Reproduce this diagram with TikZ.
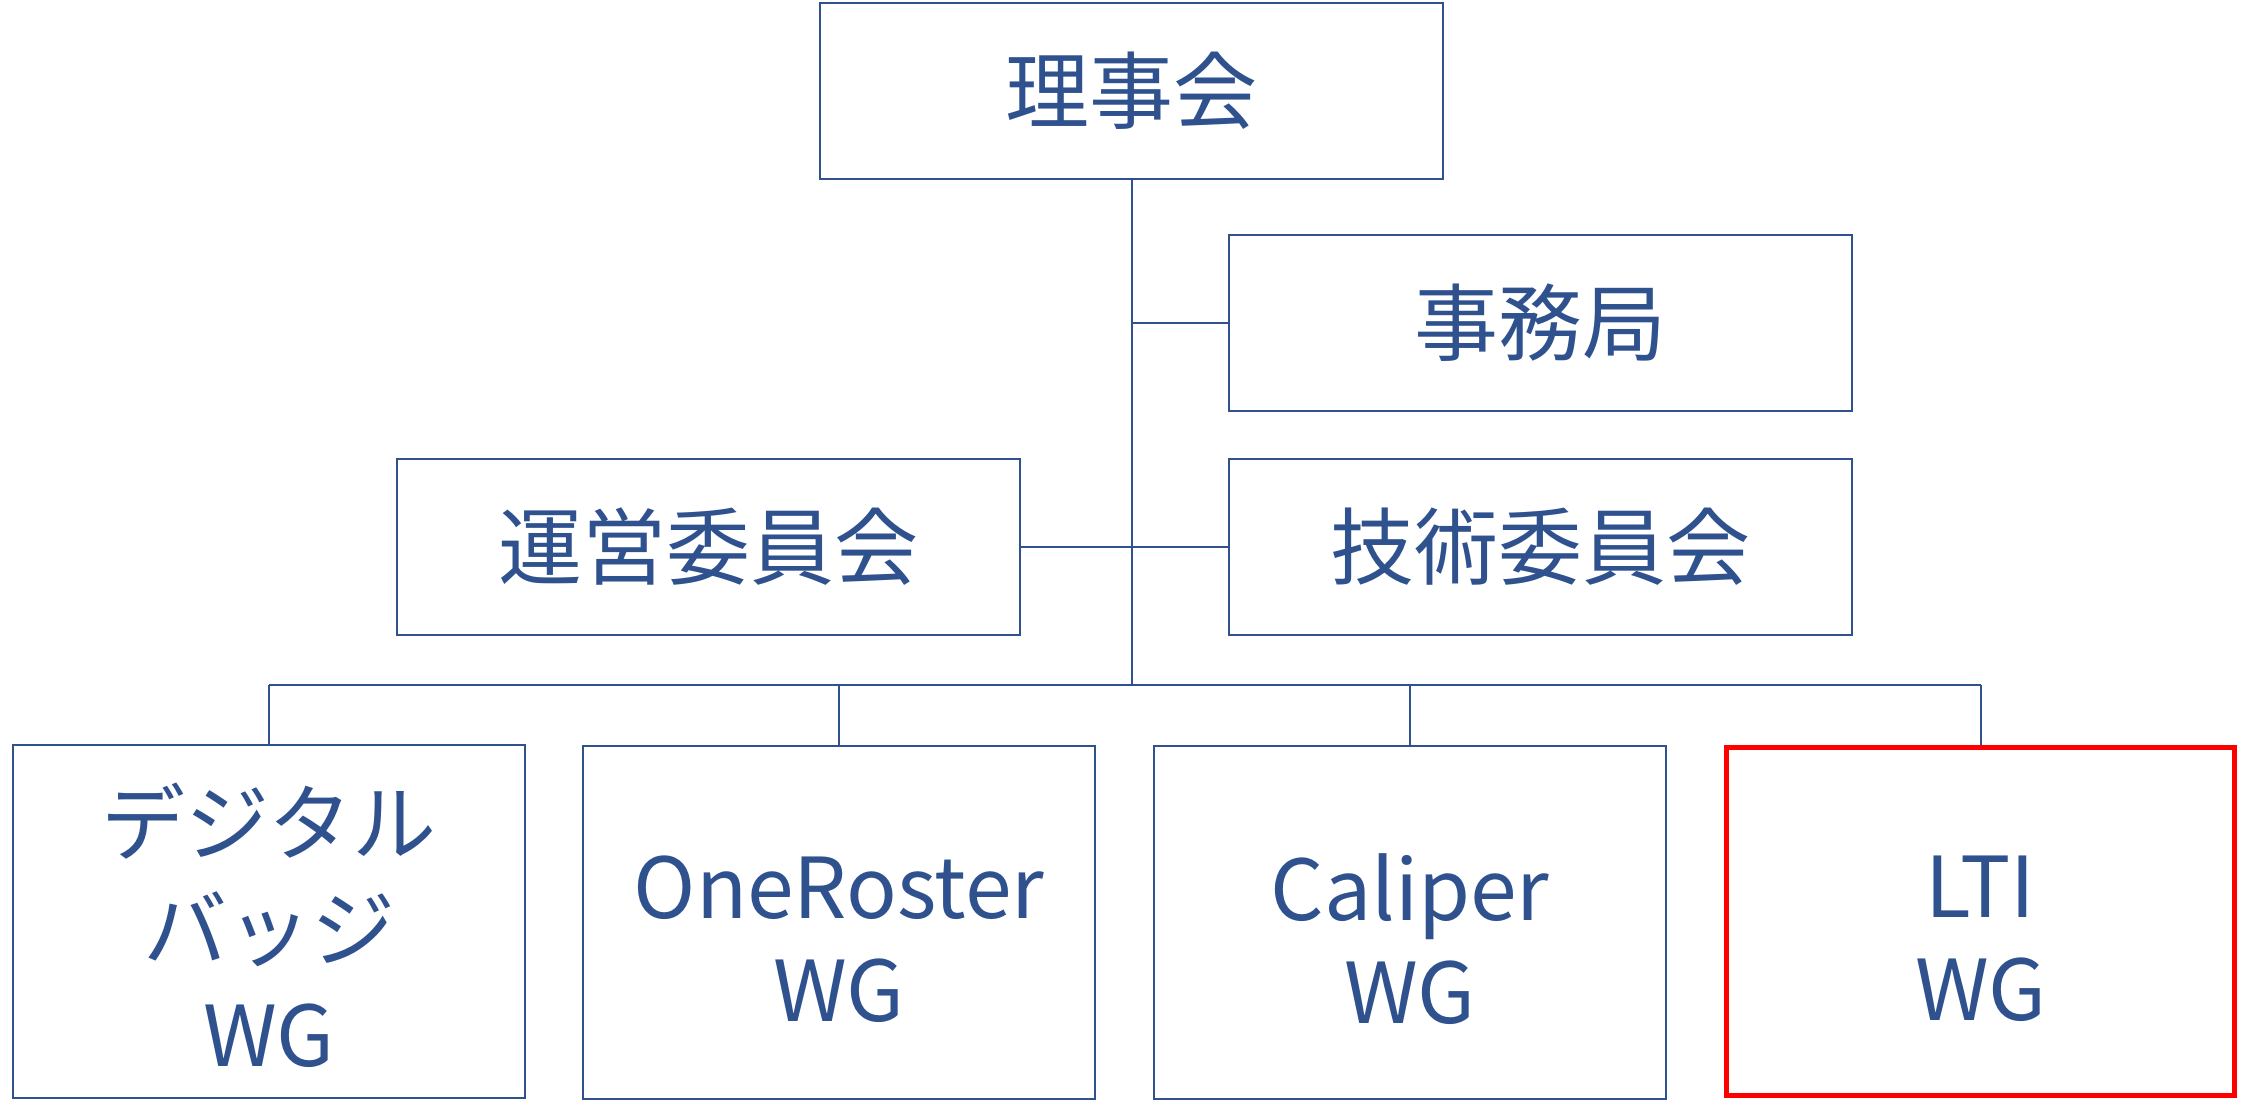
\documentclass[tikz,border=0pt]{standalone}
\usepackage{fontspec}
\setmainfont{Noto Sans CJK JP}
\definecolor{ob}{HTML}{2F528F}
\begin{document}
\begin{tikzpicture}[x=0.5pt,y=-0.5pt,
  box/.style={draw=ob, line width=1pt, fill=white, text=ob, align=center, inner sep=0pt,
    font=\fontsize{42}{51.5}\selectfont},
  lbl/.style={text=ob, align=center, inner sep=0pt, font=\fontsize{42}{51.5}\selectfont},
  topbox/.style={box, minimum width=311.5pt, minimum height=88pt},
  wgbox/.style={box, minimum width=256pt, minimum height=176.5pt},
  hotbox/.style={wgbox, draw=red, line width=2.5pt, minimum width=254pt, minimum height=174pt},
  conn/.style={draw=ob, line width=1pt}]
\fill[white] (0,0) rectangle (2247,1100);
\useasboundingbox (0,0) rectangle (2247,1100);
% boxes
\node[topbox] (riji) at (1131.5,91) {理事会};
\node[topbox] (jimu) at (1540.5,323) {事務局};
\node[topbox] (unei) at (708.5,547) {運営委員会};
\node[topbox] (giju) at (1540.5,547) {技術委員会};
\node[wgbox, label={[lbl, name=digt, yshift=-2pt, font=\fontsize{42}{53}\selectfont]center:{デジタル\\バッジ\\WG}}] (dig) at (269,921.5) {};
\node[wgbox, label={[lbl, name=onet, yshift=-8.5pt]center:{OneRoster\\WG}}] (one) at (839,922.5) {};
\node[wgbox, label={[lbl, name=calt, yshift=-8.5pt]center:{Caliper\\WG}}] (cal) at (1410,922.5) {};
\node[hotbox, label={[lbl, name=ltit, yshift=-8.5pt]center:{LTI\\WG}}] (lti) at (1980.5,921.5) {};
% connectors
\coordinate (busL) at (269,685);
\coordinate (busR) at (1981,685);
\draw[conn] (riji.south) -- (riji.south |- busL);
\draw[conn] (jimu.west) -- (jimu.west -| riji.south);
\draw[conn] (unei.east) -- (giju.west);
\draw[conn] (busL) -- (busR);
\draw[conn] (dig.north) -- (dig.north |- busL);
\draw[conn] (one.north) -- (one.north |- busL);
\draw[conn] (cal.north) -- (cal.north |- busL);
\draw[conn] (lti.north) -- (lti.north |- busL);
\end{tikzpicture}
\end{document}
